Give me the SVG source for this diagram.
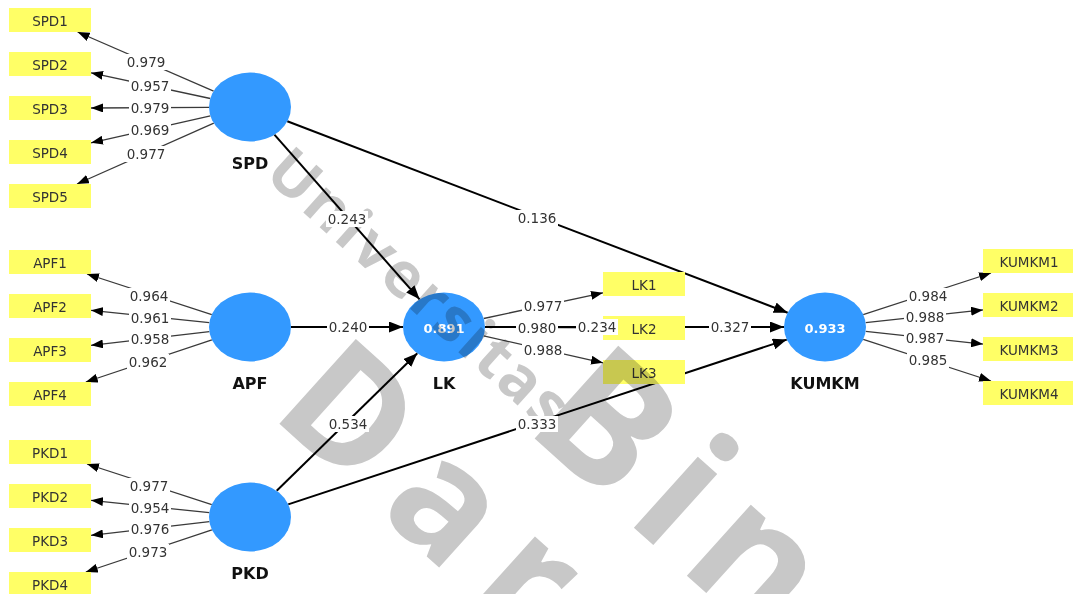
<svg xmlns="http://www.w3.org/2000/svg" width="1076" height="594" viewBox="0 0 1076 594">
<style>
.bg{fill:#ffffff}
.lv{fill:#3399ff}
.lvname{font-family:"DejaVu Sans","Liberation Sans",sans-serif;font-weight:bold;font-size:16px;fill:#111;text-anchor:middle}
.lvval{font-family:"DejaVu Sans","Liberation Sans",sans-serif;font-weight:bold;font-size:13px;fill:#ffffff;text-anchor:middle}
.ind{fill:#ffff66}
.indt{font-family:"DejaVu Sans","Liberation Sans",sans-serif;font-size:13.5px;fill:#333;text-anchor:middle}
.ld{stroke:#3a3a3a;stroke-width:1.3;fill:none;marker-end:url(#ah)}
.pc{stroke:#000;stroke-width:2;fill:none;marker-end:url(#ahb)}
.lb{fill:#ffffff}
.lt{font-family:"DejaVu Sans","Liberation Sans",sans-serif;font-size:13.5px;fill:#333;text-anchor:middle}
.wm{font-family:"Open Sans","Liberation Sans",sans-serif;font-weight:bold;fill:#c8c8c8}
</style>
<defs>
<marker id="ah" viewBox="0 0 12 9" refX="12" refY="4.5" markerWidth="12" markerHeight="9" markerUnits="userSpaceOnUse" orient="auto"><path d="M0,0 L12,4.5 L0,9 z" fill="#000"/></marker>
<marker id="ahb" viewBox="0 0 14 11" refX="14" refY="5.5" markerWidth="14" markerHeight="11" markerUnits="userSpaceOnUse" orient="auto"><path d="M0,0 L14,5.5 L0,11 z" fill="#000"/></marker>
</defs>
<rect class="bg" x="0" y="0" width="1076" height="594"/>
<g id="connectors">
<line class="ld" x1="213.6" y1="91.2" x2="77.6" y2="32"/>
<line class="ld" x1="210.3" y1="98.5" x2="91" y2="72.8"/>
<line class="ld" x1="209" y1="107.3" x2="91" y2="108"/>
<line class="ld" x1="210.4" y1="115.9" x2="91" y2="142.8"/>
<line class="ld" x1="213.8" y1="123.1" x2="77" y2="184"/>
<line class="ld" x1="211.8" y1="314.6" x2="87" y2="274"/>
<line class="ld" x1="209.3" y1="322.7" x2="91" y2="310.3"/>
<line class="ld" x1="209.4" y1="331.7" x2="91" y2="345.3"/>
<line class="ld" x1="211.9" y1="339.8" x2="85.8" y2="382"/>
<line class="ld" x1="211.8" y1="504.6" x2="87" y2="464"/>
<line class="ld" x1="209.3" y1="512.7" x2="91" y2="500.3"/>
<line class="ld" x1="209.4" y1="521.7" x2="91" y2="535.3"/>
<line class="ld" x1="211.9" y1="529.8" x2="85.8" y2="572"/>
<line class="ld" x1="483.7" y1="318.5" x2="603" y2="292.8"/>
<line class="ld" x1="485" y1="327.2" x2="603" y2="327.8"/>
<line class="ld" x1="483.6" y1="335.9" x2="603" y2="362.8"/>
<line class="ld" x1="863.2" y1="314.6" x2="991" y2="273"/>
<line class="ld" x1="865.7" y1="322.6" x2="983" y2="309.9"/>
<line class="ld" x1="865.7" y1="331.4" x2="983" y2="344.1"/>
<line class="ld" x1="863.2" y1="339.4" x2="991" y2="381"/>
<line class="pc" x1="274.4" y1="134.7" x2="419.6" y2="299.3"/>
<line class="pc" x1="287.3" y1="121.3" x2="787.7" y2="312.7"/>
<line class="pc" x1="291" y1="327" x2="403" y2="327"/>
<line class="pc" x1="276.7" y1="490.8" x2="417.3" y2="353.2"/>
<line class="pc" x1="288.2" y1="504.4" x2="786.8" y2="339.6"/>
<line class="pc" x1="485" y1="327" x2="784" y2="327"/>
</g>
<g id="node-SPD"><ellipse class="lv" cx="250" cy="107" rx="41" ry="34.5"/><text class="lvname" x="250" y="169">SPD</text></g>
<g id="node-APF"><ellipse class="lv" cx="250" cy="327" rx="41" ry="34.5"/><text class="lvname" x="250" y="389">APF</text></g>
<g id="node-PKD"><ellipse class="lv" cx="250" cy="517" rx="41" ry="34.5"/><text class="lvname" x="250" y="579">PKD</text></g>
<g id="node-LK"><ellipse class="lv" cx="444" cy="327" rx="41" ry="34.5"/><text class="lvval" x="444" y="333">0.891</text><text class="lvname" x="444" y="389">LK</text></g>
<g id="node-KUMKM"><ellipse class="lv" cx="825" cy="327" rx="41" ry="34.5"/><text class="lvval" x="825" y="333">0.933</text><text class="lvname" x="825" y="389">KUMKM</text></g>
<g id="node-SPD1"><rect class="ind" x="9" y="8" width="82" height="24"/><text class="indt" x="50" y="25.5">SPD1</text></g>
<g id="node-SPD2"><rect class="ind" x="9" y="52" width="82" height="24"/><text class="indt" x="50" y="69.5">SPD2</text></g>
<g id="node-SPD3"><rect class="ind" x="9" y="96" width="82" height="24"/><text class="indt" x="50" y="113.5">SPD3</text></g>
<g id="node-SPD4"><rect class="ind" x="9" y="140" width="82" height="24"/><text class="indt" x="50" y="157.5">SPD4</text></g>
<g id="node-SPD5"><rect class="ind" x="9" y="184" width="82" height="24"/><text class="indt" x="50" y="201.5">SPD5</text></g>
<g id="node-APF1"><rect class="ind" x="9" y="250" width="82" height="24"/><text class="indt" x="50" y="267.5">APF1</text></g>
<g id="node-APF2"><rect class="ind" x="9" y="294" width="82" height="24"/><text class="indt" x="50" y="311.5">APF2</text></g>
<g id="node-APF3"><rect class="ind" x="9" y="338" width="82" height="24"/><text class="indt" x="50" y="355.5">APF3</text></g>
<g id="node-APF4"><rect class="ind" x="9" y="382" width="82" height="24"/><text class="indt" x="50" y="399.5">APF4</text></g>
<g id="node-PKD1"><rect class="ind" x="9" y="440" width="82" height="24"/><text class="indt" x="50" y="457.5">PKD1</text></g>
<g id="node-PKD2"><rect class="ind" x="9" y="484" width="82" height="24"/><text class="indt" x="50" y="501.5">PKD2</text></g>
<g id="node-PKD3"><rect class="ind" x="9" y="528" width="82" height="24"/><text class="indt" x="50" y="545.5">PKD3</text></g>
<g id="node-PKD4"><rect class="ind" x="9" y="572" width="82" height="24"/><text class="indt" x="50" y="589.5">PKD4</text></g>
<g id="node-LK1"><rect class="ind" x="603" y="272" width="82" height="24"/><text class="indt" x="644" y="289.5">LK1</text></g>
<g id="node-LK2"><rect class="ind" x="603" y="316" width="82" height="24"/><text class="indt" x="644" y="333.5">LK2</text></g>
<g id="node-LK3"><rect class="ind" x="603" y="360" width="82" height="24"/><text class="indt" x="644" y="377.5">LK3</text></g>
<g id="node-KUMKM1"><rect class="ind" x="983" y="249" width="90" height="24"/><text class="indt" x="1029" y="266.5">KUMKM1</text></g>
<g id="node-KUMKM2"><rect class="ind" x="983" y="293" width="90" height="24"/><text class="indt" x="1029" y="310.5">KUMKM2</text></g>
<g id="node-KUMKM3"><rect class="ind" x="983" y="337" width="90" height="24"/><text class="indt" x="1029" y="354.5">KUMKM3</text></g>
<g id="node-KUMKM4"><rect class="ind" x="983" y="381" width="90" height="24"/><text class="indt" x="1029" y="398.5">KUMKM4</text></g>
<g id="watermark" style="mix-blend-mode:multiply" transform="rotate(42)">
<text class="wm" x="313" y="-45" font-size="62" letter-spacing="3">Universitas</text>
<text class="wm" x="675" y="-32" font-size="175" letter-spacing="18">Bina</text>
<text class="wm" x="477" y="128" font-size="160" letter-spacing="26">Darma</text>
</g>
<g id="connector-labels">
<rect class="lb" x="125" y="54" width="42" height="16"/><text class="lt" x="146" y="67">0.979</text>
<rect class="lb" x="129" y="78" width="42" height="16"/><text class="lt" x="150" y="91">0.957</text>
<rect class="lb" x="129" y="100" width="42" height="16"/><text class="lt" x="150" y="113">0.979</text>
<rect class="lb" x="129" y="122" width="42" height="16"/><text class="lt" x="150" y="135">0.969</text>
<rect class="lb" x="125" y="146" width="42" height="16"/><text class="lt" x="146" y="159">0.977</text>
<rect class="lb" x="128" y="288" width="42" height="16"/><text class="lt" x="149" y="301">0.964</text>
<rect class="lb" x="129" y="310" width="42" height="16"/><text class="lt" x="150" y="323">0.961</text>
<rect class="lb" x="129" y="331" width="42" height="16"/><text class="lt" x="150" y="344">0.958</text>
<rect class="lb" x="127" y="354" width="42" height="16"/><text class="lt" x="148" y="367">0.962</text>
<rect class="lb" x="128" y="478" width="42" height="16"/><text class="lt" x="149" y="491">0.977</text>
<rect class="lb" x="129" y="500" width="42" height="16"/><text class="lt" x="150" y="513">0.954</text>
<rect class="lb" x="129" y="521" width="42" height="16"/><text class="lt" x="150" y="534">0.976</text>
<rect class="lb" x="127" y="544" width="42" height="16"/><text class="lt" x="148" y="557">0.973</text>
<rect class="lb" x="522" y="298" width="42" height="16"/><text class="lt" x="543" y="311">0.977</text>
<rect class="lb" x="516" y="320" width="42" height="16"/><text class="lt" x="537" y="333">0.980</text>
<rect class="lb" x="522" y="342" width="42" height="16"/><text class="lt" x="543" y="355">0.988</text>
<rect class="lb" x="907" y="288" width="42" height="16"/><text class="lt" x="928" y="301">0.984</text>
<rect class="lb" x="904" y="309" width="42" height="16"/><text class="lt" x="925" y="322">0.988</text>
<rect class="lb" x="904" y="330" width="42" height="16"/><text class="lt" x="925" y="343">0.987</text>
<rect class="lb" x="907" y="352" width="42" height="16"/><text class="lt" x="928" y="365">0.985</text>
<rect class="lb" x="326" y="211" width="42" height="16"/><text class="lt" x="347" y="224">0.243</text>
<rect class="lb" x="516" y="210" width="42" height="16"/><text class="lt" x="537" y="223">0.136</text>
<rect class="lb" x="327" y="319" width="42" height="16"/><text class="lt" x="348" y="332">0.240</text>
<rect class="lb" x="327" y="416" width="42" height="16"/><text class="lt" x="348" y="429">0.534</text>
<rect class="lb" x="516" y="416" width="42" height="16"/><text class="lt" x="537" y="429">0.333</text>
<rect class="lb" x="576" y="319" width="42" height="16"/><text class="lt" x="597" y="332">0.234</text>
<rect class="lb" x="709" y="319" width="42" height="16"/><text class="lt" x="730" y="332">0.327</text>
</g>
</svg>
